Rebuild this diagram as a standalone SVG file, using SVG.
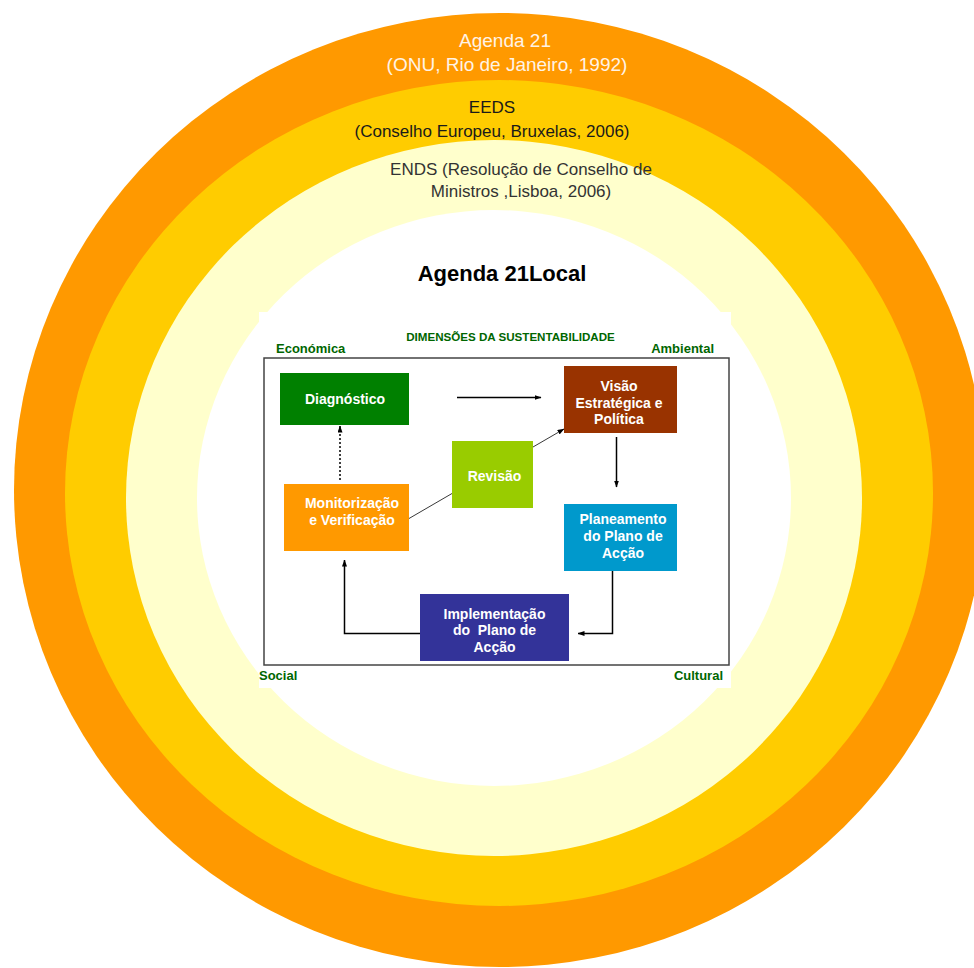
<svg xmlns="http://www.w3.org/2000/svg" width="974" height="968" viewBox="0 0 974 968">
<defs>
<style>
.ring{stroke:none}
.top{font-family:"Liberation Sans",Arial,sans-serif;text-anchor:middle}
.lbl{font-family:"Liberation Sans",Arial,sans-serif;font-weight:bold;fill:#006600}
.node text{font-family:"Liberation Sans",Arial,sans-serif;font-weight:bold;fill:#ffffff;font-size:14px;text-anchor:middle}
.conn{fill:none;stroke:#000;stroke-width:1.5}
.thin{fill:none;stroke:#222;stroke-width:0.9}
</style>
<marker id="ah" markerWidth="7" markerHeight="5" refX="6.5" refY="2.5" orient="auto" markerUnits="userSpaceOnUse">
<path d="M0,0 L7,2.5 L0,5 Z" fill="#000"/>
</marker>
</defs>
<rect width="974" height="968" fill="#ffffff"/>
<g id="rings">
<ellipse class="ring" cx="500" cy="490" rx="486" ry="477" fill="#FF9900"/>
<ellipse class="ring" cx="499" cy="493" rx="434" ry="413" fill="#FFCC00"/>
<ellipse class="ring" cx="494" cy="498" rx="368" ry="358" fill="#FFFFCC"/>
<ellipse class="ring" cx="494" cy="498" rx="297" ry="288" fill="#FFFFFF"/>
<rect x="259" y="312" width="472" height="376" fill="#FFFFFF"/>
</g>
<g id="ring-labels">
<text class="top" x="505" y="47" font-size="19" fill="#FFF3E6">Agenda 21</text>
<text class="top" x="507" y="71" font-size="19" fill="#FFF3E6">(ONU, Rio de Janeiro, 1992)</text>
<text class="top" x="492" y="113" font-size="17" fill="#1a1a1a">EEDS</text>
<text class="top" x="492" y="137" font-size="17" fill="#1a1a1a">(Conselho Europeu, Bruxelas, 2006)</text>
<text class="top" x="521" y="175" font-size="17" fill="#333333">ENDS (Resolução de Conselho de</text>
<text class="top" x="521" y="197" font-size="17" fill="#333333">Ministros ,Lisboa, 2006)</text>
<text class="top" x="502" y="281" font-size="22" font-weight="bold" fill="#000">Agenda 21Local</text>
</g>
<g id="frame">
<rect x="264" y="358" width="465" height="307" fill="none" stroke="#444" stroke-width="1.5"/>
<text class="lbl" x="510.5" y="341" text-anchor="middle" font-size="11.6">DIMENSÕES DA SUSTENTABILIDADE</text>
<text class="lbl" x="276" y="353" font-size="13">Económica</text>
<text class="lbl" x="714" y="353" text-anchor="end" font-size="13">Ambiental</text>
<text class="lbl" x="259" y="680" font-size="13">Social</text>
<text class="lbl" x="723" y="680" text-anchor="end" font-size="13">Cultural</text>
</g>
<g id="connectors">
<line class="conn" x1="457" y1="397.5" x2="541" y2="397.5" marker-end="url(#ah)"/>
<line class="conn" x1="616.5" y1="437" x2="616.5" y2="487" marker-end="url(#ah)"/>
<polyline class="conn" points="612.5,571 612.5,633.5 578,633.5" marker-end="url(#ah)"/>
<polyline class="conn" points="420,633.5 344.5,633.5 344.5,560" marker-end="url(#ah)"/>
<line class="conn" x1="340" y1="480" x2="340" y2="426" stroke-dasharray="2,2" marker-end="url(#ah)"/>
<line class="thin" x1="409" y1="518.5" x2="452" y2="493.5"/>
<line class="thin" x1="533" y1="447" x2="564" y2="429" marker-end="url(#ah)"/>
</g>
<g id="diagnostico" class="node">
<rect x="280" y="373" width="129" height="52" fill="#008000"/>
<text x="345" y="404">Diagnóstico</text>
</g>
<g id="visao" class="node">
<rect x="564" y="366" width="113" height="67" fill="#993300"/>
<text x="619" y="391">Visão</text>
<text x="619" y="408">Estratégica e</text>
<text x="619" y="424">Política</text>
</g>
<g id="revisao" class="node">
<rect x="452" y="441" width="81" height="67" fill="#99CC00"/>
<text x="494.5" y="481">Revisão</text>
</g>
<g id="monitorizacao" class="node">
<rect x="284" y="484" width="125" height="67" fill="#FF9900"/>
<text x="352" y="508">Monitorização</text>
<text x="352" y="525">e Verificação</text>
</g>
<g id="planeamento" class="node">
<rect x="564" y="504" width="113" height="67" fill="#0099CC"/>
<text x="623" y="524">Planeamento</text>
<text x="623" y="541">do Plano de</text>
<text x="623" y="558">Acção</text>
</g>
<g id="implementacao" class="node">
<rect x="420" y="594" width="149" height="67" fill="#333399"/>
<text x="494.5" y="619">Implementação</text>
<text x="494.5" y="635" xml:space="preserve">do  Plano de</text>
<text x="494.5" y="652">Acção</text>
</g>
</svg>
